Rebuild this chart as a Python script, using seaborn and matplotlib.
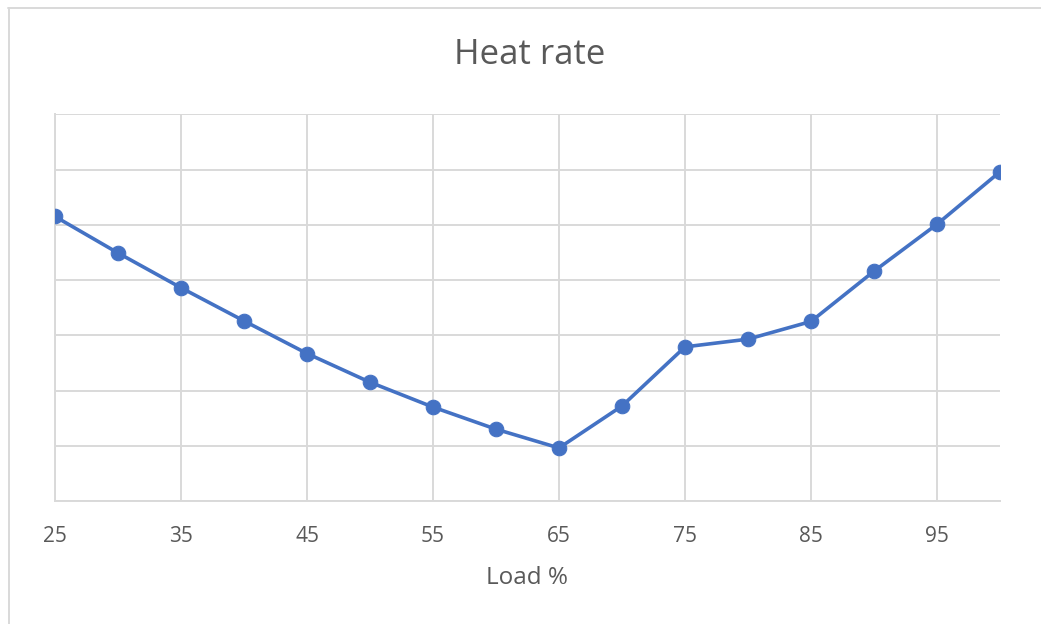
import matplotlib
matplotlib.use("Agg")
import matplotlib.pyplot as plt
import seaborn as sns
import pandas as pd
from matplotlib.lines import Line2D

load_pct = [25, 30, 35, 40, 45, 50, 55, 60, 65, 70, 75, 80, 85, 90, 95, 100]
heat_rate = [5.15, 4.49, 3.86, 3.26, 2.67, 2.15, 1.70, 1.30, 0.96, 1.72, 2.79, 2.93, 3.25, 4.16, 5.01, 5.96]
x_ticks = [25, 35, 45, 55, 65, 75, 85, 95]
title = "Heat rate"
x_label = "Load %"

df = pd.DataFrame({"load": load_pct, "heat": heat_rate})

sns.set_theme(style="white")
plt.rcParams["font.family"] = ["Open Sans", "DejaVu Sans"]

W, H = 1041, 624
fig = plt.figure(figsize=(W / 100, H / 100), dpi=100)
ax = fig.add_axes([55 / W, 1 - 501 / H, (1000 - 55) / W, (501 - 114.3) / H])

grid_c = "#D9D9D9"
text_c = "#595959"
line_c = "#4472C4"

sns.lineplot(data=df, x="load", y="heat", ax=ax, color=line_c, linewidth=2.6,
             marker="o", markersize=10.5, markeredgecolor=line_c, zorder=3)

ax.set_xlim(25, 100)
ax.set_ylim(0, 7)
ax.set_yticks(range(0, 8))
ax.set_xticks(x_ticks)
ax.set_xticklabels([str(v) for v in x_ticks])
ax.tick_params(axis="y", left=False, labelleft=False)
ax.tick_params(axis="x", bottom=False, labelsize=15, colors=text_c, pad=12)
ax.grid(True, color=grid_c, linewidth=1.4)
ax.set_axisbelow(True)
for s in ["top", "right"]:
    ax.spines[s].set_visible(False)
for s in ["left", "bottom"]:
    ax.spines[s].set_color(grid_c)
    ax.spines[s].set_linewidth(1.4)

ax.set_xlabel(x_label, fontsize=17.5, color=text_c, labelpad=14)
ax.set_ylabel("")

fig.text(530 / W, 1 - 55 / H, title, ha="center", va="center", fontsize=25, color=text_c)

# chart frame (top & left edges visible)
fig.add_artist(Line2D([8 / W, 1.0], [1 - 7.5 / H, 1 - 7.5 / H], transform=fig.transFigure,
                      color=grid_c, linewidth=1.4))
fig.add_artist(Line2D([8.5 / W, 8.5 / W], [0, 1 - 7.5 / H], transform=fig.transFigure,
                      color=grid_c, linewidth=1.4))

fig.savefig("out.png", dpi=100, facecolor="white")
